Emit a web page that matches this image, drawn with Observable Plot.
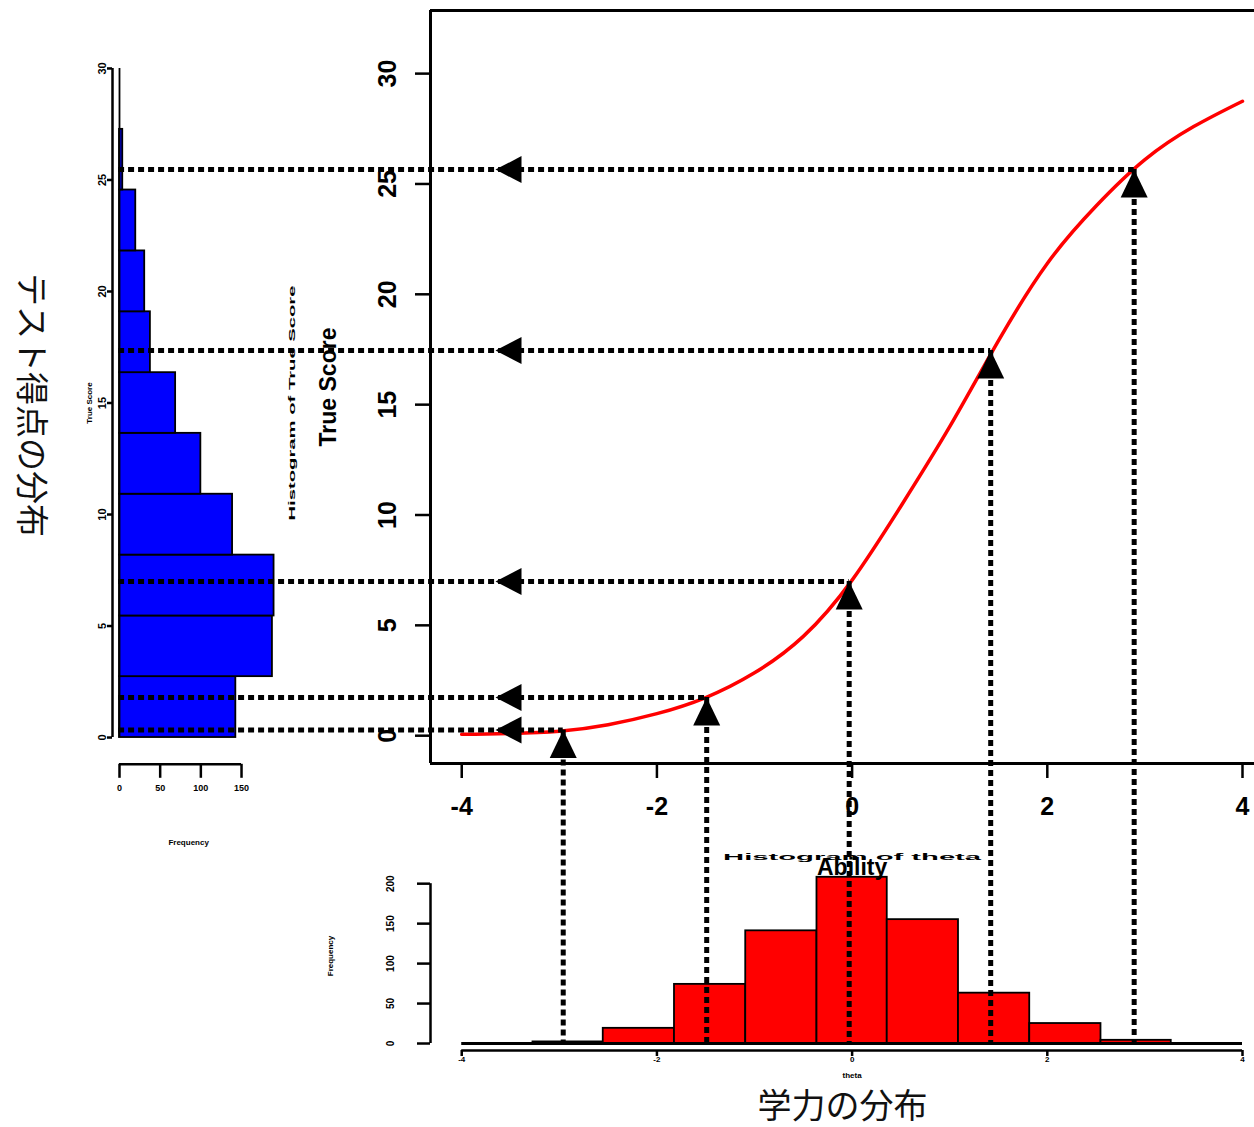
<!DOCTYPE html>
<html><head><meta charset="utf-8">
<script src="https://cdn.jsdelivr.net/npm/d3@7"></script>
<script src="https://cdn.jsdelivr.net/npm/@observablehq/plot@0.6"></script>
<style>
html,body{margin:0;padding:0;background:#fff;overflow:hidden}
#wrap{position:relative;width:1254px;height:1127px;background:#fff}
#wrap svg{position:absolute;left:0;top:0;background:transparent !important}
</style></head><body><div id="wrap"></div>
<script>
// ---- Data ----
// Test characteristic curve: ability (theta) -> true score
const curveTheta = [-4, -3.5, -3, -2.5, -2, -1.5, -1, -0.5, 0, 0.5, 1, 1.5, 2, 2.5, 3, 3.5, 4];
const curveTrueScore = [0.06, 0.1, 0.2, 0.5, 1.0, 1.73, 2.85, 4.5, 7.05, 10.4, 14.0, 17.9, 21.4, 24.0, 26.1, 27.6, 28.75];

// Projection points (ability -> true score)
const projTheta = [-2.96, -1.49, -0.03, 1.42, 2.89];
const projTrueScore = [0.26, 1.73, 6.99, 17.45, 25.65];

// Histogram of ability (red)
const abilityBreaks = [-4, -3.27, -2.55, -1.82, -1.09, -0.36, 0.36, 1.09, 1.82, 2.55, 3.27, 4];
const abilityCounts = [0, 2, 19, 74, 141, 208, 155, 63, 25, 4, 0];

// Histogram of true score (blue, horizontal)
const trueScoreBreaks = [0, 2.73, 5.45, 8.18, 10.91, 13.64, 16.36, 19.09, 21.82, 24.55, 27.27, 30];
const trueScoreCounts = [143, 188, 190, 139, 100, 69, 38, 31, 20, 4, 0];

// Tick values
const mainXTicks = [-4, -2, 0, 2, 4];
const mainYTicks = [0, 5, 10, 15, 20, 25, 30];
const abilityFreqTicks = [0, 50, 100, 150, 200];
const trueScoreFreqTicks = [0, 50, 100, 150];

// Texts
const xLabel = "Ability";
const yLabel = "True Score";
const abilityHistTitle = "Histogram of theta";
const abilityHistXLabel = "theta";
const trueScoreHistTitle = "Histogram of True Score";
const freqLabel = "Frequency";
const leftTitle = "テスト得点の分布";
const bottomTitle = "学力の分布";

// ---- Build tables ----
const curve = curveTheta.map((t, i) => ({theta: t, ts: curveTrueScore[i]}));
const proj = projTheta.map((t, i) => ({theta: t, ts: projTrueScore[i]}));
const abilityBins = abilityCounts.map((c, i) => ({x1: abilityBreaks[i], x2: abilityBreaks[i + 1], count: c}));
const trueScoreBins = trueScoreCounts.map((c, i) => ({y1: trueScoreBreaks[i], y2: trueScoreBreaks[i + 1], count: c}));

const W = 1254, H = 1127;
const FONT = "'Liberation Sans', Arial, Helvetica, sans-serif";
const JFONT = "'Noto Sans CJK JP', 'Noto Sans', sans-serif";
const baseStyle = {background: "transparent", overflow: "visible", fontFamily: FONT};
const fmt = d => String(d); // ASCII hyphen minus, as in the original
const wrap = document.getElementById("wrap");

const leftArrow = {draw(ctx) { ctx.moveTo(0, 0); ctx.lineTo(26, -13.5); ctx.lineTo(26, 13.5); ctx.closePath(); }};
const upArrow = {draw(ctx) { ctx.moveTo(0, 0); ctx.lineTo(13.5, 28); ctx.lineTo(-13.5, 28); ctx.closePath(); }};

const dotted = {stroke: "black", strokeWidth: 5, strokeDasharray: "6 4"};
const small = {fontWeight: "bold", fontFamily: FONT};

// ---- Blue (true score) histogram panel ----
const blueX = [-8.6, 200], blueY = [-1.2, 31.2];
const bluePlot = Plot.plot({
  width: W, height: H,
  marginLeft: 112, marginRight: W - 281.7, marginTop: 41.2, marginBottom: H - 763.8,
  x: {domain: blueX, label: null}, y: {domain: blueY, label: null},
  style: baseStyle,
  marks: [
    Plot.rect(trueScoreBins, {x1: 0, x2: "count", y1: "y1", y2: "y2", fill: "#0000ff", stroke: "black", strokeWidth: 1.8}),
    Plot.ruleX([0], {y1: 0, y2: 30, strokeWidth: 1.8}),
    Plot.ruleX([blueX[0]], {y1: 0, y2: 30, strokeWidth: 2.5}),
    Plot.axisY(mainYTicks, {anchor: "left", label: null, tickFormat: fmt, tickSize: 5, tickPadding: 2, tickRotate: -90, fontSize: 11, fontWeight: "bold", strokeWidth: 2.5}),
    Plot.ruleY([blueY[0]], {x1: 0, x2: 150, strokeWidth: 2.5}),
    Plot.axisX(trueScoreFreqTicks, {anchor: "bottom", label: null, tickFormat: fmt, tickSize: 14, tickPadding: 6, fontSize: 9, fontWeight: "bold", strokeWidth: 2.5}),
    Plot.text([trueScoreHistTitle], {frameAnchor: "left", dx: 180, rotate: -90, textAnchor: "middle", lineAnchor: "middle", fontSize: 9, ...small}),
    Plot.text([freqLabel], {x: 85, frameAnchor: "bottom", dy: 78, lineAnchor: "middle", fontSize: 8, ...small}),
    Plot.text([yLabel], {frameAnchor: "left", dx: -23, rotate: -90, textAnchor: "middle", lineAnchor: "middle", fontSize: 8, ...small})
  ]
});

// ---- Red (ability) histogram panel ----
const redX = [-4.32, 4.123], redY = [-8.75, 227.75];
const redPlot = Plot.plot({
  width: W, height: H,
  marginLeft: 430, marginRight: 0, marginTop: 861, marginBottom: H - 1050,
  x: {domain: redX, label: null}, y: {domain: redY, label: null},
  style: baseStyle,
  marks: [
    Plot.rect(abilityBins, {x1: "x1", x2: "x2", y1: 0, y2: "count", fill: "#ff0000", stroke: "black", strokeWidth: 1.8}),
    Plot.ruleY([0], {x1: -4, x2: 4, strokeWidth: 3}),
    Plot.ruleY([redY[0]], {x1: -4, x2: 4, strokeWidth: 2.5}),
    Plot.axisX(mainXTicks, {anchor: "bottom", label: null, tickFormat: fmt, tickSize: 6, tickPadding: 0, fontSize: 8, fontWeight: "bold", strokeWidth: 2.5}),
    Plot.ruleX([redX[0]], {y1: 0, y2: 200, strokeWidth: 2.5}),
    Plot.axisY(abilityFreqTicks, {anchor: "left", label: null, tickFormat: fmt, tickSize: 13, tickPadding: 24, tickRotate: -90, fontSize: 10, fontWeight: "bold", strokeWidth: 2.5}),
    Plot.text([abilityHistTitle], {x: 0, frameAnchor: "top", dy: -4, lineAnchor: "middle", fontSize: 9, ...small}),
    Plot.text([freqLabel], {frameAnchor: "left", dx: -100, rotate: -90, textAnchor: "middle", lineAnchor: "middle", fontSize: 8, ...small}),
    Plot.text([abilityHistXLabel], {x: 0, frameAnchor: "bottom", dy: 25, lineAnchor: "middle", fontSize: 8, ...small})
  ]
});

// ---- Main panel: test characteristic curve ----
const mainX = [-4.32, 4.123], mainY = [-1.26, 32.86];
const mainPlot = Plot.plot({
  width: W, height: H,
  marginLeft: 430, marginRight: 0, marginTop: 10, marginBottom: H - 763,
  x: {domain: mainX, label: null}, y: {domain: mainY, label: null},
  style: baseStyle,
  marks: [
    Plot.ruleX([mainX[0]], {y1: mainY[0], y2: mainY[1], strokeWidth: 3}),
    Plot.ruleY([mainY[1]], {x1: mainX[0], x2: mainX[1], strokeWidth: 3}),
    Plot.ruleY([mainY[0]], {x1: mainX[0], x2: mainX[1], strokeWidth: 3}),
    Plot.axisX(mainXTicks, {anchor: "bottom", label: null, tickFormat: fmt, tickSize: 15, tickPadding: 19, fontSize: 25, fontWeight: "bold", strokeWidth: 2.5}),
    Plot.axisY(mainYTicks, {anchor: "left", label: null, tickFormat: fmt, tickSize: 15, tickPadding: 20, tickRotate: -90, fontSize: 25, fontWeight: "bold", strokeWidth: 2.5}),
    Plot.line(curve, {x: "theta", y: "ts", stroke: "#ff0000", strokeWidth: 3.5, curve: "natural"}),
    Plot.ruleY(proj, {y: "ts", x1: -7.516, x2: "theta", ...dotted}),
    Plot.ruleX(proj, {x: "theta", y1: "ts", y2: -13.9, ...dotted}),
    Plot.dot(proj, {x: -3.654, y: "ts", symbol: leftArrow, fill: "black", stroke: "none"}),
    Plot.dot(proj, {x: "theta", y: "ts", symbol: upArrow, fill: "black", stroke: "none"}),
    Plot.text([yLabel], {frameAnchor: "left", dx: -102, rotate: -90, textAnchor: "middle", lineAnchor: "middle", fontSize: 23, ...small}),
    Plot.text([xLabel], {x: 0, frameAnchor: "bottom", dy: 104, lineAnchor: "middle", fontSize: 23, ...small}),
    Plot.text([leftTitle], {frameAnchor: "left", dx: -400, dy: 18, rotate: 90, textAnchor: "middle", lineAnchor: "middle", fontSize: 33, fontFamily: JFONT, fill: "#111"}),
    Plot.text([bottomTitle], {frameAnchor: "bottom", dy: 344, lineAnchor: "middle", fontSize: 34, fontFamily: JFONT, fill: "#111"})
  ]
});

[bluePlot, redPlot, mainPlot].forEach(p => wrap.appendChild(p));

// stretch the tiny (illegible in the original) histogram titles to their original lengths
function stretch(svg, txt, len) {
  svg.querySelectorAll("text").forEach(t => {
    if (t.textContent === txt) { t.setAttribute("textLength", len); t.setAttribute("lengthAdjust", "spacingAndGlyphs"); }
  });
}
stretch(bluePlot, trueScoreHistTitle, 235);
stretch(redPlot, abilityHistTitle, 258);
</script></body></html>
